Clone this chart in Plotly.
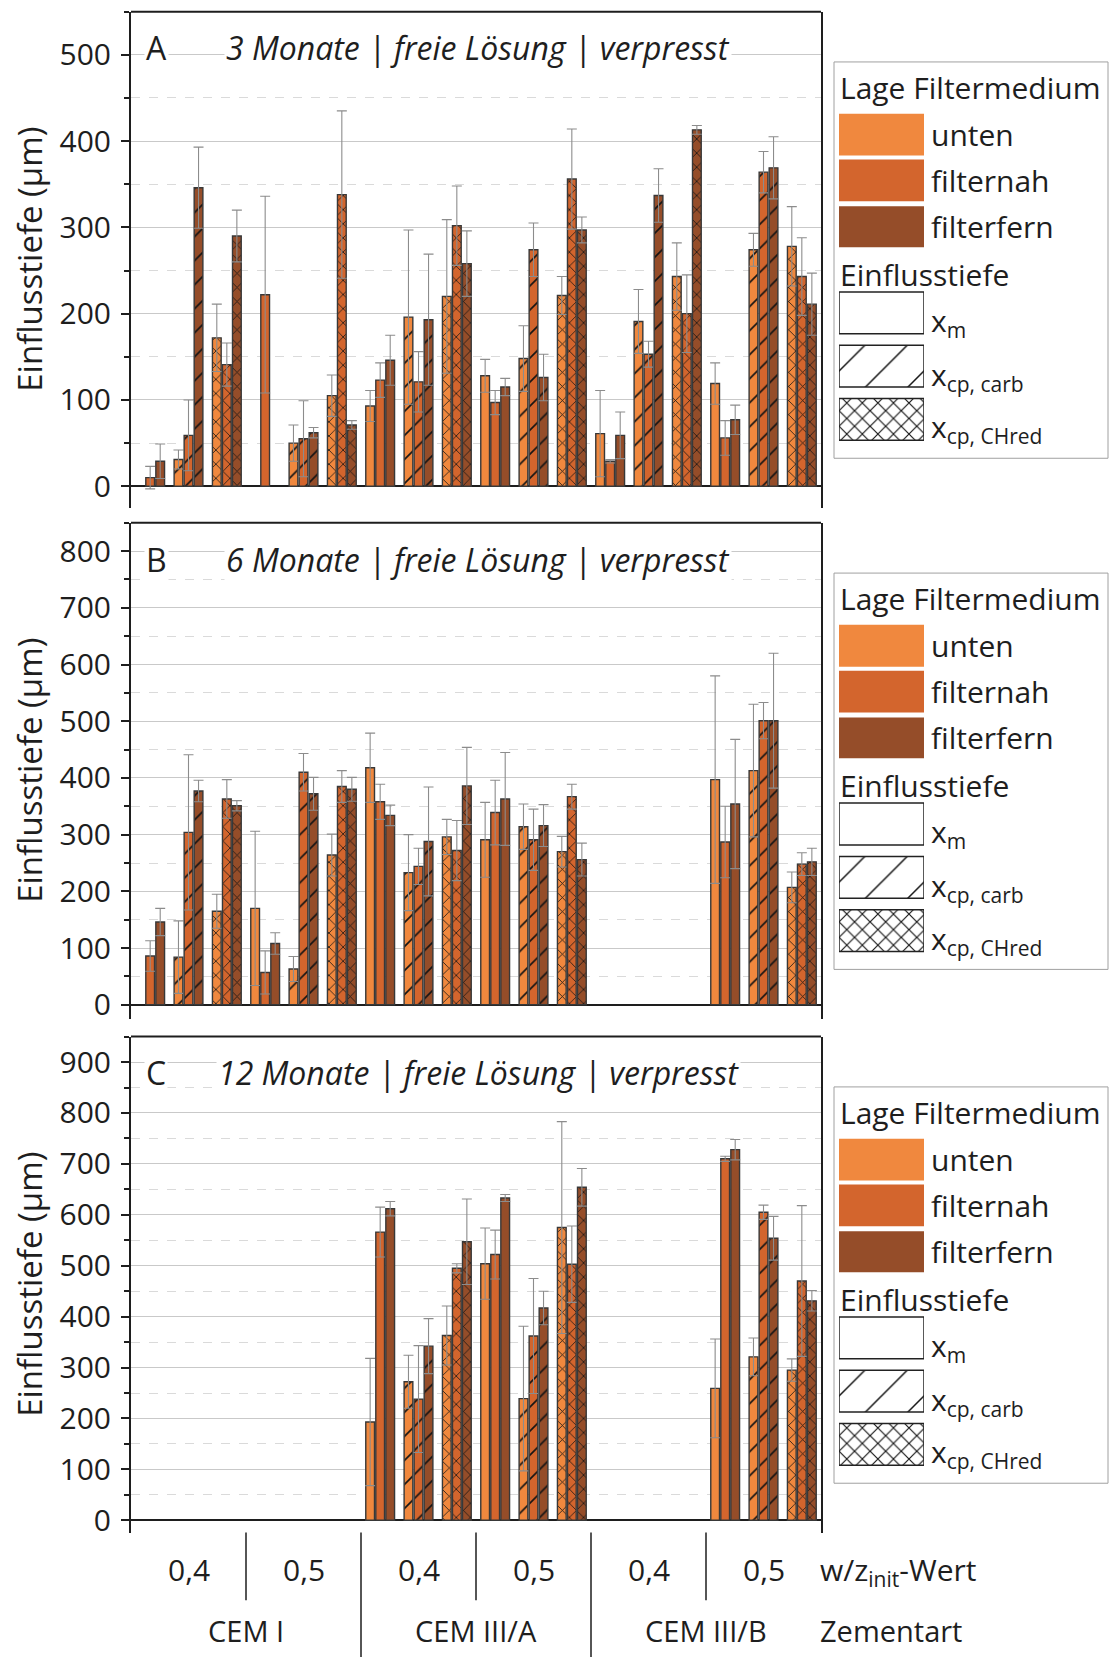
import plotly.graph_objects as go

W, H = 1111, 1664
FONT = "Open Sans"
INK = "#1e1e1e"

# Sample layout: 6 groups (cement type x w/z), each split into 3 depth kinds
cement_types = ["CEM I", "CEM III/A", "CEM III/B"]
wz_labels = ["0,4", "0,5"]
depth_kinds = ["x_m", "x_cp_carb", "x_cp_CHred"]
depth_labels = ["x<sub>m</sub>", "x<sub>cp, carb</sub>", "x<sub>cp, CHred</sub>"]
depth_patterns = ["", "/", "x"]
positions = ["unten", "filternah", "filterfern"]
position_colors = ["#F0883E", "#D3652D", "#954D29"]

# 3 months (µm); order per group: x_m, x_cp carb, x_cp CHred
a_unten = [None, 31, 172, None, 50, 105, 93, 196, 220, 128, 148, 221, 61, 191, 243, 119, 274, 278]
a_unten_err = [None, 11, 39, None, 21, 24, 18, 101, 89, 19, 38, 22, 50, 37, 39, 24, 19, 46]
a_filternah = [10, 59, 141, 222, 55, 338, 123, 121, 302, 97, 274, 356, 29, 153, 200, 56, 364, 243]
a_filternah_err = [13, 41, 25, 114, 44, 97, 20, 35, 46, 14, 31, 58, 2, 15, 45, 20, 24, 45]
a_filterfern = [29, 346, 290, None, 62, 71, 146, 193, 258, 115, 126, 297, 59, 337, 413, 77, 369, 211]
a_filterfern_err = [20, 47, 30, None, 6, 5, 29, 76, 38, 10, 27, 15, 27, 31, 5, 17, 36, 36]

# 6 months (µm)
b_unten = [None, 84, 165, 170, 63, 264, 418, 233, 296, 291, 314, 270, None, None, None, 397, 413, 207]
b_unten_err = [None, 64, 30, 136, 22, 37, 61, 67, 31, 66, 40, 27, None, None, None, 183, 117, 27]
b_filternah = [86, 304, 363, 57, 410, 385, 358, 244, 272, 339, 291, 367, None, None, None, 287, 501, 248]
b_filternah_err = [27, 137, 34, 38, 33, 28, 31, 32, 53, 57, 54, 22, None, None, None, 63, 32, 20]
b_filterfern = [146, 377, 351, 108, 372, 380, 334, 288, 386, 363, 316, 256, None, None, None, 354, 501, 252]
b_filterfern_err = [24, 19, 9, 19, 29, 21, 18, 96, 68, 82, 37, 29, None, None, None, 114, 119, 24]

# 12 months (µm)
c_unten = [None] * 6 + [193, 272, 363, 504, 239, 575] + [None] * 3 + [259, 321, 295]
c_unten_err = [None] * 6 + [125, 52, 58, 70, 142, 208] + [None] * 3 + [97, 37, 22]
c_filternah = [None] * 6 + [566, 238, 495, 522, 362, 503] + [None] * 3 + [710, 605, 470]
c_filternah_err = [None] * 6 + [49, 105, 9, 48, 113, 75] + [None] * 3 + [5, 14, 148]
c_filterfern = [None] * 6 + [612, 342, 547, 633, 417, 654] + [None] * 3 + [728, 554, 431]
c_filterfern_err = [None] * 6 + [14, 54, 84, 7, 33, 37] + [None] * 3 + [20, 43, 20]

panels = [
    dict(letter="A", title="3 Monate | freie Lösung | verpresst", ymax=550, ytop_label=500,
         top=11.7, zero=488.3, title_x=224,
         series=[(a_unten, a_unten_err), (a_filternah, a_filternah_err), (a_filterfern, a_filterfern_err)]),
    dict(letter="B", title="6 Monate | freie Lösung | verpresst", ymax=850, ytop_label=800,
         top=525.0, zero=1009.0, title_x=224,
         series=[(b_unten, b_unten_err), (b_filternah, b_filternah_err), (b_filterfern, b_filterfern_err)]),
    dict(letter="C", title="12 Monate | freie Lösung | verpresst", ymax=950, ytop_label=900,
         top=1041.0, zero=1526.7, title_x=216,
         series=[(c_unten, c_unten_err), (c_filternah, c_filternah_err), (c_filterfern, c_filterfern_err)]),
]

YMIN = -25
X0_PX, X1_PX = 131, 821
n_sub = len(cement_types) * len(wz_labels) * len(depth_kinds)
sub_x = list(range(n_sub))
bar_shapes = depth_patterns * (n_sub // 3)
bar_sizes = [8, 17, 10] * (n_sub // 3)
bar_solid = [0.1, 0.1, 0.15] * (n_sub // 3)

LEG_SIZE = 30   # legend text
TICK_SIZE = 30  # y tick labels
CAT_SIZE = 30   # category labels


def py(px):
    return 1 - px / H


def px_x(px):
    return px / W


def ax_ids(n):
    s = "" if n == 1 else str(n)
    return f"x{s}", f"y{s}", f"xaxis{s}", f"yaxis{s}"


fig = go.Figure()
layout = dict(
    width=W, height=H, autosize=False,
    margin=dict(l=0, r=0, t=0, b=0),
    paper_bgcolor="white", plot_bgcolor="white",
    barmode="group", bargap=0.215, bargroupgap=0.13,
    showlegend=False,
    font=dict(family=FONT, color=INK, size=26),
)
shapes, annotations = [], []

for i, p in enumerate(panels, start=1):
    xa, ya, xkey, ykey = ax_ids(i)
    scale = (p["zero"] - p["top"]) / p["ymax"]
    bottom_px = p["zero"] - YMIN * scale
    for k, (vals, errs) in enumerate(p["series"]):
        fig.add_trace(go.Bar(
            x=sub_x, y=vals, name=positions[k], xaxis=xa, yaxis=ya,
            marker=dict(
                color=position_colors[k],
                line=dict(color="#383838", width=1.4),
                pattern=dict(shape=bar_shapes, size=bar_sizes, solidity=bar_solid,
                             fgcolor="#141414", fgopacity=1, fillmode="overlay"),
            ),
            error_y=dict(type="data", array=[e if e is not None else 0 for e in errs],
                         symmetric=True, color="#8c8c8c", thickness=1.1, width=5),
            hoverinfo="skip",
        ))
    layout[xkey] = dict(
        domain=[px_x(X0_PX), px_x(X1_PX)], anchor=ya, range=[-0.5, n_sub - 0.5],
        showticklabels=False, showgrid=False, zeroline=False, showline=False, ticks="",
    )
    layout[ykey] = dict(
        domain=[py(bottom_px), py(p["top"])], anchor=xa, range=[YMIN, p["ymax"]],
        tickmode="array", tickvals=list(range(0, p["ytop_label"] + 1, 100)),
        ticks="outside", ticklen=8, tickwidth=2, tickcolor=INK,
        tickfont=dict(size=TICK_SIZE, color=INK, family=FONT), ticklabelstandoff=4,
        showgrid=True, gridcolor="#c9c9c9", gridwidth=1,
        zeroline=True, zerolinecolor=INK, zerolinewidth=2,
        showline=True, linecolor=INK, linewidth=2, mirror=True,
        minor=dict(dtick=50, tick0=0, ticks="outside", ticklen=5, tickwidth=1.5, tickcolor=INK,
                   showgrid=True, gridcolor="#dadada", griddash="dash", gridwidth=1),
    )
    # top frame line
    shapes.append(dict(type="line", xref=f"{xa} domain", yref=f"{ya} domain",
                       x0=0, x1=1, y0=1, y1=1, line=dict(color=INK, width=2)))
    # axis title
    annotations.append(dict(text="Einflusstiefe (µm)", textangle=-90, xref="paper", yref="paper",
                            x=px_x(30), y=py((p["top"] + bottom_px) / 2), showarrow=False,
                            xanchor="center", yanchor="middle", font=dict(size=33, color=INK)))
    # panel letter and title
    ty = py(p["top"] + 36.5)
    annotations.append(dict(text=p["letter"], xref="paper", yref="paper", x=px_x(144), y=ty,
                            xanchor="left", yanchor="middle", showarrow=False, bgcolor="white",
                            font=dict(size=32, color=INK)))
    annotations.append(dict(text=f"<i>{p['title']}</i>", xref="paper", yref="paper",
                            x=px_x(p["title_x"]), y=ty, xanchor="left", yanchor="middle",
                            showarrow=False, bgcolor="white", font=dict(size=32, color=INK)))

    # legend block
    bt = p["top"] + 50.5
    shapes.append(dict(type="rect", xref="paper", yref="paper", x0=px_x(834), x1=px_x(1108),
                       y0=py(bt), y1=py(bt + 398), line=dict(color="#a0a0a0", width=1),
                       fillcolor="rgba(0,0,0,0)"))
    annotations.append(dict(text="Lage Filtermedium", xref="paper", yref="paper", x=px_x(838),
                            y=py(bt + 26), xanchor="left", yanchor="middle", showarrow=False,
                            font=dict(size=LEG_SIZE, color=INK)))
    for k, (y0, y1) in enumerate([(52, 94), (98, 140), (145, 186)]):
        shapes.append(dict(type="rect", xref="paper", yref="paper", x0=px_x(839), x1=px_x(924),
                           y0=py(bt + y0), y1=py(bt + y1), line=dict(width=0),
                           fillcolor=position_colors[k]))
        annotations.append(dict(text=positions[k], xref="paper", yref="paper", x=px_x(929),
                                y=py(bt + (y0 + y1) / 2), xanchor="left", yanchor="middle",
                                showarrow=False, font=dict(size=LEG_SIZE, color=INK)))
    annotations.append(dict(text="Einflusstiefe", xref="paper", yref="paper", x=px_x(838),
                            y=py(bt + 213), xanchor="left", yanchor="middle", showarrow=False,
                            font=dict(size=LEG_SIZE, color=INK)))
    lx, ly, lxkey, lykey = ax_ids(i + 3)
    fig.add_trace(go.Bar(
        x=[1, 1, 1], y=[0, 1, 2], base=0, width=0.785, orientation="h",
        xaxis=lx, yaxis=ly, hoverinfo="skip",
        marker=dict(color="white", line=dict(color="#222222", width=1.5),
                    pattern=dict(shape=depth_patterns, size=[8, 30, 11], solidity=[0.1, 0.05, 0.2],
                                 fgcolor="#141414", fgopacity=1, fillmode="overlay")),
    ))
    layout[lxkey] = dict(domain=[px_x(839), px_x(924)], range=[0, 1], visible=False,
                         anchor=ly, fixedrange=True)
    layout[lykey] = dict(domain=[py(bt + 385.75), py(bt + 225.25)], range=[2.5, -0.5],
                         visible=False, anchor=lx, fixedrange=True)
    for k, cy in enumerate([258, 312, 365]):
        annotations.append(dict(text=depth_labels[k], xref="paper", yref="paper", x=px_x(929),
                                y=py(bt + cy + 3), xanchor="left", yanchor="middle",
                                showarrow=False, font=dict(size=LEG_SIZE, color=INK)))

# category labels under the lowest panel
group_w = (X1_PX - X0_PX) / 6
for g in range(6):
    cx = X0_PX + group_w * (g + 0.5)
    annotations.append(dict(text=wz_labels[g % 2], xref="paper", yref="paper", x=px_x(cx),
                            y=py(1576), xanchor="center", yanchor="middle", showarrow=False,
                            font=dict(size=CAT_SIZE, color=INK)))
for c in range(3):
    cx = X0_PX + group_w * (2 * c + 1)
    annotations.append(dict(text=cement_types[c], xref="paper", yref="paper", x=px_x(cx),
                            y=py(1637), xanchor="center", yanchor="middle", showarrow=False,
                            font=dict(size=CAT_SIZE - 1, color=INK)))
annotations.append(dict(text="w/z<sub>init</sub>-Wert", xref="paper", yref="paper", x=px_x(818),
                        y=py(1578), xanchor="left", yanchor="middle", showarrow=False,
                        font=dict(size=CAT_SIZE, color=INK)))
annotations.append(dict(text="Zementart", xref="paper", yref="paper", x=px_x(818), y=py(1637),
                        xanchor="left", yanchor="middle", showarrow=False,
                        font=dict(size=CAT_SIZE - 1, color=INK)))

# separators between w/z groups (short) and cement types (long)
for g in range(1, 6):
    gx = X0_PX + group_w * g
    y_end = H if g % 2 == 0 else 1607
    shapes.append(dict(type="line", xref="paper", yref="paper", x0=px_x(gx), x1=px_x(gx),
                       y0=py(1539), y1=py(y_end), line=dict(color=INK, width=1.5)))

layout["shapes"] = shapes
layout["annotations"] = annotations
fig.update_layout(**layout)
fig.write_html("out.html")
